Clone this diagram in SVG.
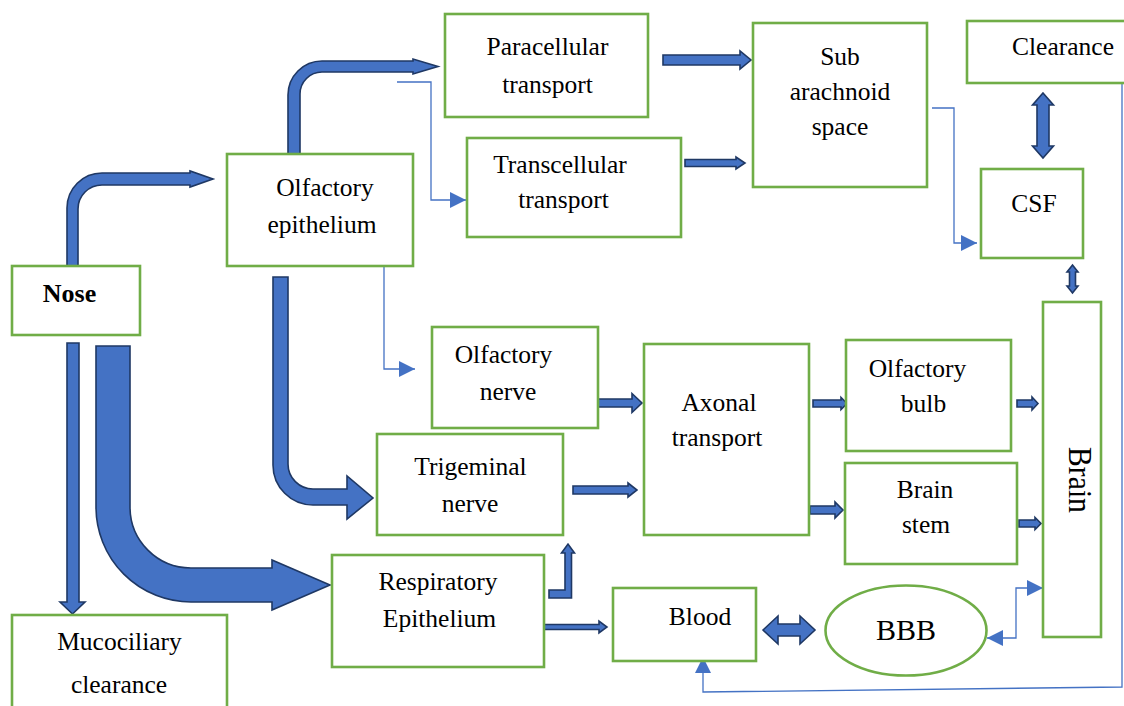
<svg xmlns="http://www.w3.org/2000/svg" width="1124" height="706" viewBox="0 0 1124 706">
<style>
.box{fill:#fff;stroke:#70AD47;stroke-width:2.6}
.t{font-family:"Liberation Serif","Times New Roman",serif;font-size:25.5px;fill:#000;text-anchor:middle}
.blk{fill:#4472C4;stroke:#1F3864;stroke-width:1.6;stroke-linejoin:miter}
.thin{fill:none;stroke:#4472C4;stroke-width:1.3}
</style>
<defs>
<marker id="tri" markerUnits="userSpaceOnUse" markerWidth="16" markerHeight="16" viewBox="0 0 15 15" refX="15" refY="7.5" orient="auto-start-reverse">
<path d="M0,0 L15,7.5 L0,15 Z" fill="#4472C4"/>
</marker>
</defs>
<rect width="1124" height="706" fill="#fff"/>

<g id="connectors">
<!-- block arrows -->
<path class="blk" d="M67,266 L67,208 A35,35 0 0 1 102,173 L190,173 L190,171 L213,179 L190,187 L190,185 L102,185 A24,24 0 0 0 78,209 L78,266 Z"/>
<path class="blk" d="M288,154 L288,95 A34,34 0 0 1 322,61 L413,61 L413,59 L438,66.5 L413,74 L413,72 L322,72 A22,22 0 0 0 300,94 L300,154 Z"/>
<path class="blk" d="M273,277 L273,465 A40,40 0 0 0 313,505 L347,505 L347,519 L373,498 L347,476 L347,489 L313,489 A25,25 0 0 1 288,464 L288,277 Z"/>
<path class="blk" d="M96,346 L96,507 A95,95 0 0 0 191,602 L272,602 L272,610 L330,585 L272,560 L272,568 L191,568 A61,61 0 0 1 130,507 L130,346 Z"/>
<path class="blk" d="M67,343 L79,343 L79,602 L85,602 L72.5,614 L60,602 L67,602 Z"/>
<path class="blk" d="M663,55 L740,55 L740,51 L751,60 L740,69 L740,65 L663,65 Z"/>
<path class="blk" d="M685,159.5 L736,159.5 L736,157 L745,163 L736,169 L736,166.5 L685,166.5 Z"/>
<path class="blk" d="M595,399 L632,399 L632,393.5 L642,403 L632,412.5 L632,407 L595,407 Z"/>
<path class="blk" d="M573,486 L628,486 L628,483 L637,490 L628,497 L628,494 L573,494 Z"/>
<path class="blk" d="M813,400 L841,400 L841,397.5 L847,403.5 L841,409.5 L841,407 L813,407 Z"/>
<path class="blk" d="M810,506 L835,506 L835,502 L843,510 L835,518 L835,514 L810,514 Z"/>
<path class="blk" d="M1017,400 L1032,400 L1032,397 L1038,403.5 L1032,410 L1032,407 L1017,407 Z"/>
<path class="blk" d="M1019,520 L1035,520 L1035,517.5 L1041,523.5 L1035,529.5 L1035,527 L1019,527 Z"/>
<path class="blk" d="M544,624.5 L599,624.5 L599,621 L607,627 L599,633 L599,629.5 L544,629.5 Z"/>
<path class="blk" d="M549,590 L565,590 L565,553 L561.5,553 L568,544 L574.5,553 L571.5,553 L571.5,598 L549,598 Z"/>
<path class="blk" d="M1043,93 L1053.5,105 L1049,105 L1049,146 L1053.5,146 L1043,158 L1032.5,146 L1037,146 L1037,105 L1032.5,105 Z"/>
<path class="blk" d="M1072.5,265 L1078,272 L1075.5,272 L1075.5,286 L1078,286 L1072.5,293 L1067,286 L1069.5,286 L1069.5,272 L1067,272 Z"/>
<path class="blk" d="M763,630 L778,616 L778,624 L800,624 L800,616 L815,630 L800,644 L800,636 L778,636 L778,644 Z"/>
<!-- thin connectors -->
<path class="thin" d="M397,82 H431 V200 H466" marker-end="url(#tri)"/>
<path class="thin" d="M353,263 H384 V369 H415" marker-end="url(#tri)"/>
<path class="thin" d="M932,108 H954 V243 H977" marker-end="url(#tri)"/>
<path class="thin" d="M987,638 H1016 V588 H1043" marker-start="url(#tri)" marker-end="url(#tri)"/>
<path class="thin" d="M1122,84 V687 L703,692 V657" marker-end="url(#tri)"/>
</g>

<g id="nose"><rect class="box" x="12" y="266" width="128" height="69"/><text class="t" x="69.5" y="302" style="font-weight:bold;font-size:26px">Nose</text></g>
<g id="olfactory-epithelium"><rect class="box" x="227" y="154" width="186" height="112"/><text class="t" x="325" y="196">Olfactory</text><text class="t" x="322" y="233">epithelium</text></g>
<g id="paracellular"><rect class="box" x="445" y="14" width="203" height="103"/><text class="t" x="547.5" y="55">Paracellular</text><text class="t" x="547.5" y="93">transport</text></g>
<g id="transcellular"><rect class="box" x="467" y="138" width="214" height="99"/><text class="t" x="560" y="173">Transcellular</text><text class="t" x="563.5" y="208">transport</text></g>
<g id="subarachnoid"><rect class="box" x="753" y="23" width="174" height="164"/><text class="t" x="840" y="65">Sub</text><text class="t" x="840" y="100">arachnoid</text><text class="t" x="840" y="135">space</text></g>
<g id="clearance"><rect class="box" x="967" y="21" width="170" height="62"/><text class="t" x="1063" y="55">Clearance</text></g>
<g id="csf"><rect class="box" x="981" y="169" width="102" height="89"/><text class="t" x="1034" y="212">CSF</text></g>
<g id="olfactory-nerve"><rect class="box" x="432" y="327" width="166" height="101"/><text class="t" x="503.5" y="363">Olfactory</text><text class="t" x="508" y="400">nerve</text></g>
<g id="trigeminal-nerve"><rect class="box" x="377" y="434" width="186" height="101"/><text class="t" x="470.5" y="475">Trigeminal</text><text class="t" x="470" y="512">nerve</text></g>
<g id="axonal-transport"><rect class="box" x="644" y="344" width="165" height="191"/><text class="t" x="719" y="411">Axonal</text><text class="t" x="717" y="446">transport</text></g>
<g id="olfactory-bulb"><rect class="box" x="846" y="340" width="165" height="111"/><text class="t" x="917.5" y="377">Olfactory</text><text class="t" x="923.5" y="412">bulb</text></g>
<g id="brain-stem"><rect class="box" x="845" y="463" width="172" height="101"/><text class="t" x="925" y="498">Brain</text><text class="t" x="926" y="533">stem</text></g>
<g id="brain"><rect class="box" x="1043" y="302" width="58" height="335"/><text class="t" transform="translate(1069,480) rotate(90) scale(0.9,1)" x="0" y="0" style="font-size:33px">Brain</text></g>
<g id="respiratory-epithelium"><rect class="box" x="332" y="555" width="212" height="112"/><text class="t" x="438" y="590">Respiratory</text><text class="t" x="439.5" y="627">Epithelium</text></g>
<g id="blood"><rect class="box" x="613" y="588" width="143" height="73"/><text class="t" x="700" y="625">Blood</text></g>
<g id="bbb"><ellipse class="box" cx="906" cy="630.5" rx="80.5" ry="45"/><text class="t" x="906" y="640" style="font-size:30px">BBB</text></g>
<g id="mucociliary-clearance"><rect class="box" x="12" y="615" width="215" height="110"/><text class="t" x="119.5" y="650">Mucociliary</text><text class="t" x="119" y="693">clearance</text></g>
</svg>
